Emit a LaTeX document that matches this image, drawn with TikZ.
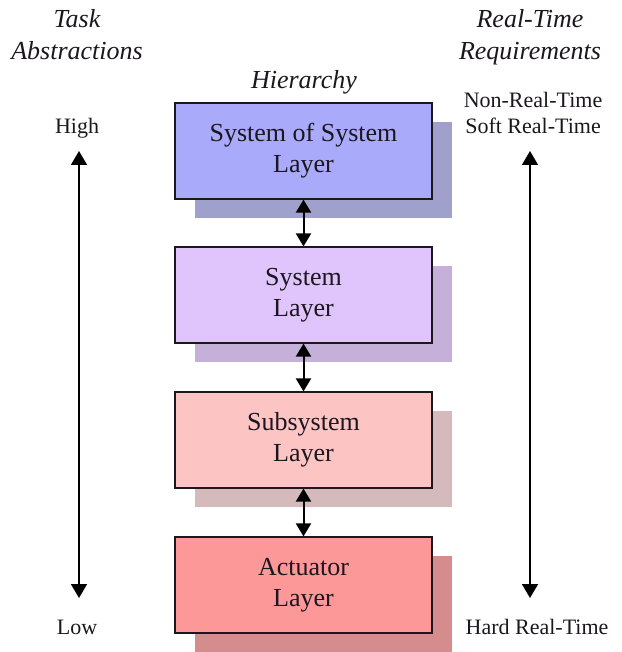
\documentclass[tikz,border=0pt]{standalone}
\usepackage{fontspec}
\setmainfont{Liberation Serif}
\usetikzlibrary{arrows.meta}
\definecolor{inkc}{RGB}{28,22,30}
\definecolor{sosfill}{RGB}{169,170,250}
\definecolor{sosshade}{RGB}{160,160,204}
\definecolor{sysfill}{RGB}{224,196,252}
\definecolor{sysshade}{RGB}{196,176,216}
\definecolor{subfill}{RGB}{253,196,196}
\definecolor{subshade}{RGB}{212,186,186}
\definecolor{actfill}{RGB}{253,152,152}
\definecolor{actshade}{RGB}{212,140,140}
\begin{document}
\begin{tikzpicture}[x=1pt,y=-1pt,
  layerbox/.style={draw=inkc, line width=1.1pt, fill=#1, minimum width=257pt,
    minimum height=96pt, align=center, inner sep=0pt, text=inkc,
    font=\fontsize{26}{31}\selectfont},
  shade/.style={fill=#1, draw=none},
  caption/.style={anchor=base, text=inkc, font=\fontsize{22}{26}\selectfont},
  heading/.style={anchor=base, text=inkc, font=\itshape\fontsize{26}{31}\selectfont},
  link/.style={line width=2pt, draw=black, {Triangle[width=15pt,length=13pt]}-{Triangle[width=15pt,length=13pt]}},
  scale arrow/.style={line width=1.6pt, draw=black, {Triangle[width=16pt,length=14pt]}-{Triangle[width=16pt,length=14pt]}}]
\useasboundingbox (0,0) rectangle (621,652);

% drop shadows behind the layers
\fill[shade=sosshade] (195,122) rectangle (452,218);
\fill[shade=sysshade] (195,266) rectangle (452,362);
\fill[shade=subshade] (195,411) rectangle (452,507);
\fill[shade=actshade] (195,556) rectangle (452,652);

% the four layers
\node[layerbox=sosfill] (sos) at (303.5,151) {System of System\\Layer};
\node[layerbox=sysfill] (sys) at (303.5,295) {System\\Layer};
\node[layerbox=subfill] (sub) at (303.5,440) {Subsystem\\Layer};
\node[layerbox=actfill] (act) at (303.5,585) {Actuator\\Layer};

\draw[link] (sos.south) -- (sys.north);
\draw[link] (sys.south) -- (sub.north);
\draw[link] (sub.south) -- (act.north);

% headings
\node[heading] (task) at (77,28) {Task};
\node[heading] (abs) at (77,60) {Abstractions};
\node[heading] (hier) at (304,89) {Hierarchy};
\node[heading] (rt) at (530,28) {Real-Time};
\node[heading] (req) at (530,60) {Requirements};

% scale labels
\node[caption] (high) at (77,134) {High};
\node[caption] (low) at (77,634) {Low};
\node[caption] (nrt) at (533,108) {Non-Real-Time};
\node[caption] (srt) at (533,134) {Soft Real-Time};
\node[caption] (hrt) at (537,634) {Hard Real-Time};

% scale arrows
\coordinate (ltop) at (79,151);
\coordinate (lbot) at (79,598);
\coordinate (rtop) at (530,151);
\coordinate (rbot) at (530,598);
\draw[scale arrow] (ltop) -- (lbot);
\draw[scale arrow] (rtop) -- (rbot);
\end{tikzpicture}
\end{document}
